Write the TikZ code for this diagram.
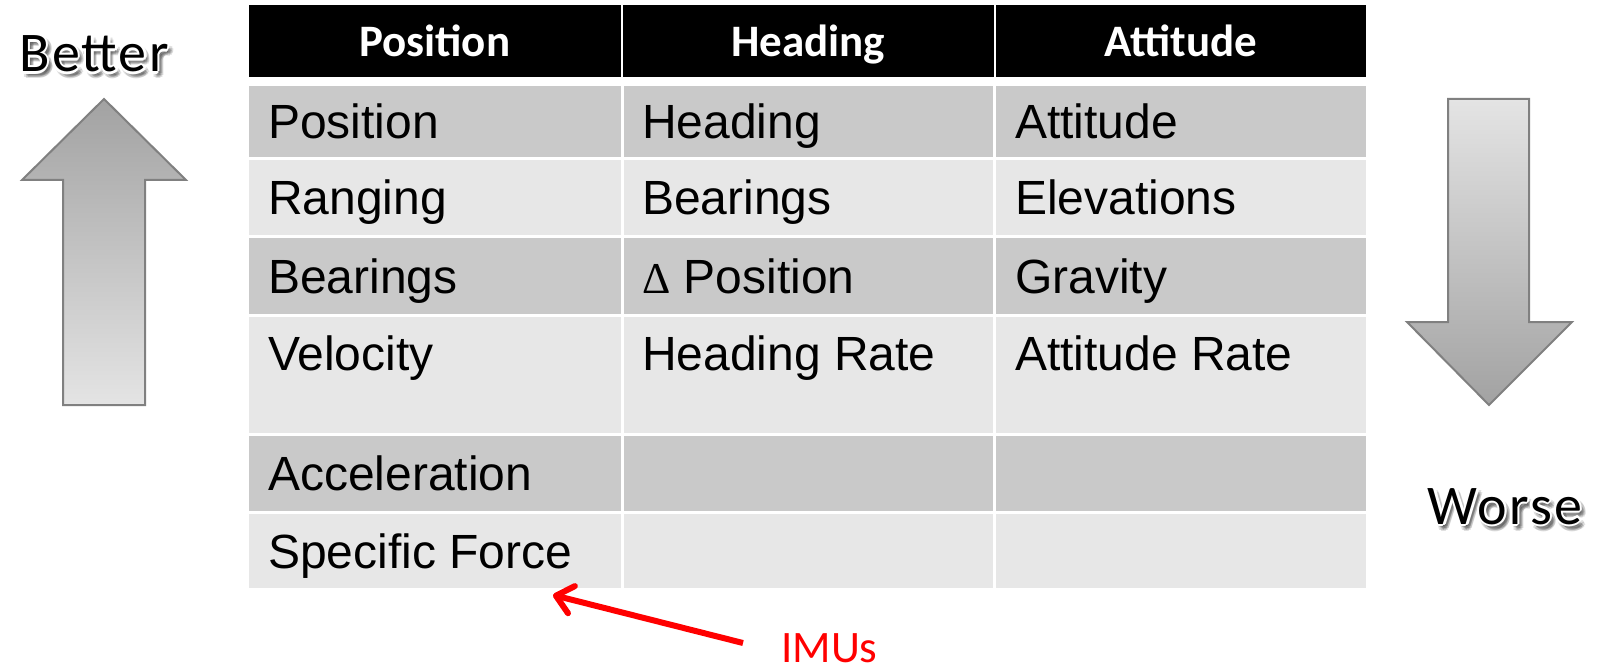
\documentclass[tikz,border=0pt]{standalone}
\usepackage{fontspec}
\setmainfont{Liberation Sans}
\newfontfamily\calibri{Carlito}
\newfontfamily\calibrisp{Carlito}[LetterSpace=4]
\newfontfamily\symfont{Liberation Serif}
\usetikzlibrary{arrows.meta}
\definecolor{rowdark}{HTML}{C9C9C9}
\definecolor{rowlight}{HTML}{E7E7E7}
\definecolor{arrowline}{HTML}{808080}
\definecolor{arrowdark}{HTML}{A2A2A2}
\definecolor{arrowlight}{HTML}{E4E4E4}
\definecolor{imured}{HTML}{FF0000}
\tikzset{
  hdrcell/.style={fill=black},
  darkcell/.style={fill=rowdark},
  lightcell/.style={fill=rowlight},
  bodytext/.style={text=black, anchor=base west, inner sep=0pt, font=\fontsize{48}{56}\selectfont},
  hdrtext/.style={text=white, anchor=base, inner sep=0pt, font=\calibri\bfseries\fontsize{45}{54}\selectfont},
  bigarrow/.style={draw=arrowline, line width=2pt, line join=miter},
  sidetext/.style={anchor=base, inner sep=0pt, text depth=0pt, font=\calibrisp\fontsize{56}{66}\selectfont},
}
\begin{document}
\begin{tikzpicture}[x=1pt,y=-1pt]
\useasboundingbox (0,0) rectangle (1597,668);
% header
\fill[hdrcell] (249,5) rectangle (620.5,77);
\fill[hdrcell] (622.5,5) rectangle (993.5,77);
\fill[hdrcell] (995.5,5) rectangle (1366,77);
\node[hdrtext] (h1) at (434.75,57) {Position};
\node[hdrtext] (h2) at (808,57) {Heading};
\node[hdrtext] (h3) at (1181,57) {Attitude};
% rows
\foreach \t/\b/\s in {86/157.5/darkcell, 160.5/235.5/lightcell, 238.5/313.5/darkcell, 316.5/432.5/lightcell, 435.5/511/darkcell, 514/588/lightcell}{
  \fill[\s] (249,\t) rectangle (620.5,\b);
  \fill[\s] (623.5,\t) rectangle (993,\b);
  \fill[\s] (996,\t) rectangle (1366,\b);
}
% texts
\node[bodytext] (p1) at (268,138.5) {Position};
\node[bodytext] (p2) at (268,215) {Ranging};
\node[bodytext] (p3) at (268,293) {Bearings};
\node[bodytext] (p4) at (268,370) {Velocity};
\node[bodytext] (p5) at (268,490) {Acceleration};
\node[bodytext] (p6) at (268,568) {Specific Force};
\node[bodytext] (g1) at (642,138.5) {Heading};
\node[bodytext] (g2) at (642,215) {Bearings};
\node[bodytext] (g3) at (642,293) {{\symfont\fontsize{44}{52}\selectfont Δ} Position};
\node[bodytext] (g4) at (642,370) {Heading Rate};
\node[bodytext] (a1) at (1015,138.5) {Attitude};
\node[bodytext] (a2) at (1015,215) {Elevations};
\node[bodytext] (a3) at (1015,293) {Gravity};
\node[bodytext] (a4) at (1015,370) {Attitude Rate};
% big arrows
\path[bigarrow, top color=arrowdark, bottom color=arrowlight]
  (104,99) -- (186,180) -- (145,180) -- (145,405) -- (63,405) -- (63,180) -- (22,180) -- cycle;
\path[bigarrow, top color=arrowlight, bottom color=arrowdark]
  (1448,99) -- (1529,99) -- (1529,322) -- (1572,322) -- (1489,405) -- (1407,322) -- (1448,322) -- cycle;
% Better / Worse with halo and soft shadow
\foreach \dx/\dy in {3/4,5/6,1/6,5/2,3/7,6/4,1/3,4/5}{
  \node[sidetext, text=black, opacity=0.12] at (94+\dx,72+\dy) {Better};
  \node[sidetext, text=black, opacity=0.12] at (1505+\dx,524+\dy) {Worse};
}
\foreach \dx/\dy in {2.2/0,-2.2/0,0/2.2,0/-2.2,1.6/1.6,-1.6/1.6,1.6/-1.6,-1.6/-1.6}{
  \node[sidetext, text=white] at (94+\dx,72+\dy) {Better};
  \node[sidetext, text=white] at (1505+\dx,524+\dy) {Worse};
}
\node[sidetext, text=black] (better) at (94,72) {Better};
\node[sidetext, text=black] (worse) at (1505,524) {Worse};
% IMUs
\node[anchor=base west, inner sep=0pt, text depth=0pt, text=imured, font=\calibri\fontsize{45}{54}\selectfont] (imu) at (781,662) {IMUs};
\coordinate (imutail) at (743,643);
\coordinate (imutip) at (553,595);
\draw[imured, line width=6pt, -{Straight Barb[length=16pt,width=28pt,round]}] (imutail) -- (imutip);
\end{tikzpicture}
\end{document}
